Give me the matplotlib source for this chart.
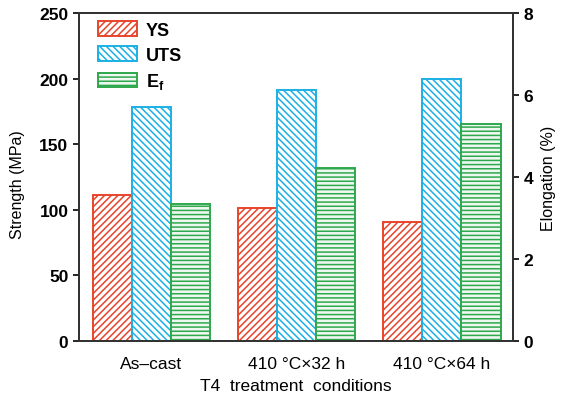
import numpy as np
import matplotlib.pyplot as plt

plt.rcParams['font.family'] = ['Liberation Sans', 'DejaVu Sans']
plt.rcParams['hatch.linewidth'] = 1.1

conditions = ["As\u2013cast", "410 \u00b0C\u00d732 h", "410 \u00b0C\u00d764 h"]
ys = [111, 101, 91]
uts = [178, 191, 200]
elongation = [3.35, 4.22, 5.28]

red = "#e8442c"
blue = "#1cb0e4"
green = "#2ea84c"


def main():
    fig = plt.figure(figsize=(5.63, 4.06), dpi=100)
    ax = fig.add_axes([0.140, 0.158, 0.771, 0.8075])
    ax2 = ax.twinx()

    x = np.arange(len(conditions))
    w = 0.27
    b1 = ax.bar(x - w, ys, w, facecolor="white", edgecolor=red, hatch="/////",
                linewidth=1.4, label="YS")
    b2 = ax.bar(x, uts, w, facecolor="white", edgecolor=blue, hatch="\\\\\\\\\\",
                linewidth=1.4, label="UTS")
    b3 = ax2.bar(x + w, elongation, w, facecolor="#eef8f0", edgecolor=green, hatch="----",
                 linewidth=1.4, label="E$_\\mathregular{f}$")

    ax.set_xlim(-0.5, 2.49)
    ax.set_ylim(0, 250)
    ax.set_yticks([0, 50, 100, 150, 200, 250])
    ax2.set_ylim(0, 8)
    ax2.set_yticks([0, 2, 4, 6, 8])

    ax.set_xticks(x)
    ax.set_xticklabels(conditions, fontsize=12.5)
    ax.tick_params(axis="x", length=0, pad=11)
    ax.tick_params(axis="y", direction="out", length=4, width=1.2, labelsize=12.5)
    ax2.tick_params(axis="y", direction="out", length=4, width=1.2, labelsize=12.5)
    for lab in ax.get_yticklabels() + ax2.get_yticklabels():
        lab.set_fontweight("bold")

    for a in (ax, ax2):
        for s in a.spines.values():
            s.set_linewidth(1.4)
            s.set_color("#333333")

    ax.set_ylabel("Strength (MPa)", fontsize=11.5)
    ax.yaxis.set_label_coords(-0.125, 0.48)
    ax2.set_ylabel("Elongation (%)", fontsize=11.5, rotation=90)
    ax2.yaxis.set_label_coords(1.065, 0.5)
    ax.set_xlabel("T4  treatment  conditions", fontsize=12.5, labelpad=5)

    ax.legend(handles=[b1, b2, b3], loc="upper left", bbox_to_anchor=(0.028, 0.997),
              frameon=False, handlelength=2.15, handleheight=0.85,
              borderaxespad=0, labelspacing=0.42, handletextpad=0.5,
              prop={"weight": "bold", "size": 13})

    fig.savefig("out.png", dpi=100)


if __name__ == '__main__':
    main()
